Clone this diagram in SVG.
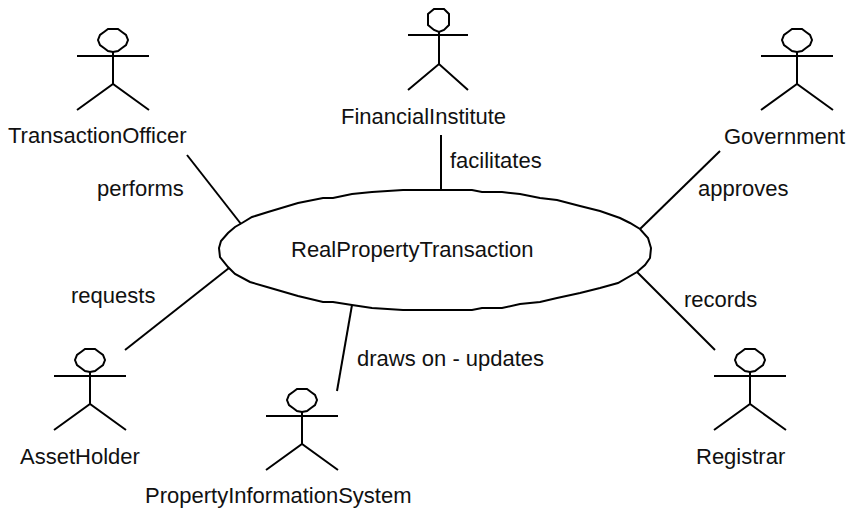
<svg xmlns="http://www.w3.org/2000/svg" width="847" height="509" viewBox="0 0 847 509">
<style>
.l{fill:none;stroke:#000;stroke-width:2}
text{font-family:"Liberation Sans",Arial,sans-serif;font-size:22px;fill:#111}
</style>
<defs>
<g id="actor" class="l">
<path d="M-5 -27H5L9 -24L13 -21L15 -16L13 -11L9 -8L5 -5L0 -4L-5 -5L-9 -8L-13 -11L-15 -16L-13 -21L-9 -24Z"/>
<path d="M0 -4V28M-36 0H36M-36 54L0 28L36 54"/>
</g>
</defs>
<rect width="847" height="509" fill="#fff"/>
<g id="connectors" class="l">
<path d="M187 155L241 224"/>
<path d="M441 135V189"/>
<path d="M720 151L640 229"/>
<path d="M715 350L637 272"/>
<path d="M352 305L337 391"/>
<path d="M125 350L229 268"/>
</g>
<g id="RealPropertyTransaction">
<path class="l" d="M440 190H472L482 192H502L520 194L540 198L557 200L580 206L600 211L620 218L630 223L640 229L648 238L651 248L650 258L645 265L637 272L618 283L600 288L580 293L557 298L540 302L520 304L502 308H482L472 310H403L372 308L352 305L333 302H323L298 296L267 287L250 282L235 274L228 267L220 257L219 248L221 241L228 233L235 227L242 223L252 217L268 212L298 203L323 198H333L352 194L372 192L403 190Z"/>
<text x="291" y="257">RealPropertyTransaction</text>
</g>
<g id="TransactionOfficer"><use href="#actor" x="113" y="56"/><text x="8" y="143">TransactionOfficer</text></g>
<g id="FinancialInstitute">
<g class="l"><path d="M434 9H444L449 14V25L444 30L439 32L434 30L428 25V14Z"/><path d="M439 32V64M408 35H468M408 90L439 64L468 90"/></g>
<text x="341" y="124">FinancialInstitute</text></g>
<g id="Government"><use href="#actor" x="797" y="56"/><text x="724" y="144">Government</text></g>
<g id="AssetHolder"><use href="#actor" x="90" y="376"/><text x="20" y="464">AssetHolder</text></g>
<g id="PropertyInformationSystem"><use href="#actor" x="302" y="416"/><text x="145" y="503">PropertyInformationSystem</text></g>
<g id="Registrar"><use href="#actor" x="750" y="376"/><text x="696" y="464">Registrar</text></g>
<g id="labels">
<text x="97" y="196">performs</text>
<text x="450" y="168">facilitates</text>
<text x="698" y="196">approves</text>
<text x="684" y="307">records</text>
<text x="357" y="366">draws on - updates</text>
<text x="71" y="303">requests</text>
</g>
</svg>
